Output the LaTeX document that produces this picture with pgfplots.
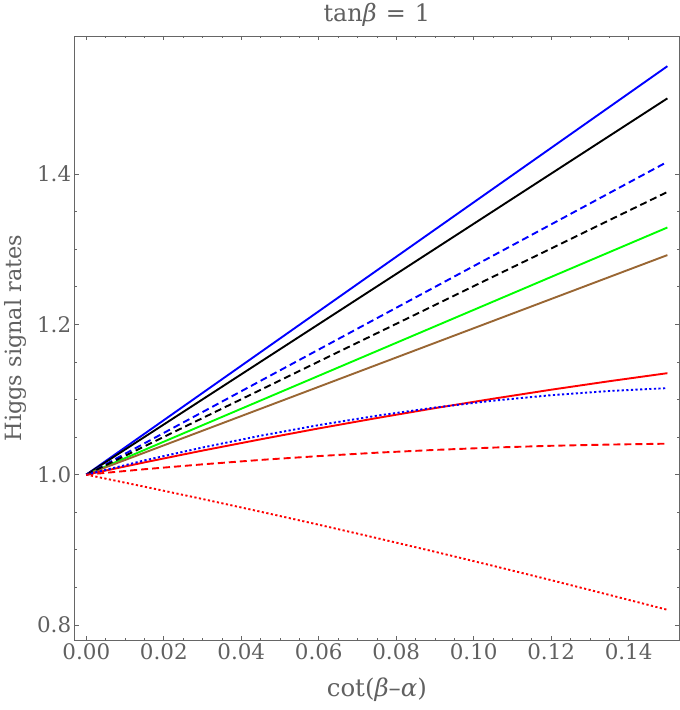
\documentclass[border=0pt]{standalone}
\usepackage{fontspec}
\setmainfont{DejaVu Serif}
\usepackage{pgfplots}
\pgfplotsset{compat=1.18}
\definecolor{txt}{RGB}{96,96,96}
\definecolor{frm}{RGB}{102,102,102}
\definecolor{mbrown}{rgb}{0.6,0.4,0.2}
\definecolor{mgreen}{rgb}{0,1,0}
\begin{document}
\begin{tikzpicture}
\begin{axis}[
  at={(0,0)}, anchor=south west,
  scale only axis, width=604.3bp, height=604bp,
  xmin=-0.003, xmax=0.153, ymin=0.78, ymax=1.5836,
  xtick={0,0.02,0.04,0.06,0.08,0.10,0.12,0.14},
  ytick={0.8,1.0,1.2,1.4},
  minor x tick num=3, minor y tick num=3,
  tick align=inside,
  major tick length=4bp, minor tick length=2.5bp,
  axis line style={frm, line width=0.9bp},
  every tick/.style={frm, line width=0.7bp},
  /pgf/number format/assume math mode=true,
  xticklabel style={/pgf/number format/.cd, fixed, fixed zerofill, precision=2},
  yticklabel style={/pgf/number format/.cd, fixed, fixed zerofill, precision=1},
  ticklabel style={font=\fontsize{21.5}{24}\selectfont, text=txt},
  title={tan\textit{β}\hspace{0.38em}=\hspace{0.38em}1},
  title style={font=\fontsize{24}{26}\selectfont, text=txt, at={(axis description cs:0.5,1.0149)}, anchor=base},
  xlabel={cot(\textit{β}–\textit{α})},
  xlabel style={font=\fontsize{24.5}{26}\selectfont, text=txt, at={(axis description cs:0.5,-0.083)}, anchor=center},
  ylabel={Higgs signal rates},
  ylabel style={font=\fontsize{22.5}{24}\selectfont, text=txt, at={(axis description cs:-0.098,0.5)}, anchor=center},
  every axis plot/.append style={line width=1.9bp, line cap=butt},
]
% solid lines
\addplot[blue] coordinates {(0,1) (0.075,1.2717) (0.15,1.5434)};
\addplot[black] coordinates {(0,1) (0.075,1.2503) (0.15,1.5006)};
\addplot[mgreen] coordinates {(0,1) (0.075,1.1644) (0.15,1.3288)};
\addplot[mbrown] coordinates {(0,1) (0.075,1.1461) (0.15,1.2921)};
\addplot[red] coordinates {
 (0,1) (0.015,1.0163) (0.03,1.0320) (0.045,1.0470) (0.06,1.0615) (0.075,1.0753)
 (0.09,1.0885) (0.105,1.1010) (0.12,1.1130) (0.135,1.1243) (0.15,1.1350)};
% dashed
\addplot[blue, dash pattern=on 7bp off 4bp] coordinates {(0,1) (0.075,1.2081) (0.15,1.4162)};
\addplot[black, dash pattern=on 7bp off 4bp] coordinates {(0,1) (0.075,1.1881) (0.15,1.3761)};
\addplot[red, dash pattern=on 7bp off 4bp] coordinates {
 (0,1) (0.015,1.0072) (0.03,1.0137) (0.045,1.0196) (0.06,1.0247) (0.075,1.0292)
 (0.09,1.0329) (0.105,1.0360) (0.12,1.0384) (0.135,1.0400) (0.15,1.0412)};
% dotted
\addplot[blue, dash pattern=on 2.2bp off 2.4bp] coordinates {
 (0,1) (0.015,1.0189) (0.03,1.0361) (0.045,1.0518) (0.06,1.0659) (0.075,1.0784)
 (0.09,1.0893) (0.105,1.0984) (0.12,1.1057) (0.135,1.1113) (0.15,1.1151)};
\addplot[red, dash pattern=on 2.2bp off 2.4bp] coordinates {
 (0,1) (0.015,0.9840) (0.03,0.9676) (0.045,0.9507) (0.06,0.9334) (0.075,0.9156)
 (0.09,0.8974) (0.105,0.8787) (0.12,0.8596) (0.135,0.8400) (0.15,0.8202)};
\end{axis}
\pgfresetboundingbox
\useasboundingbox (-74.7bp,-70bp) rectangle (605.3bp,640bp);
\end{tikzpicture}
\end{document}
